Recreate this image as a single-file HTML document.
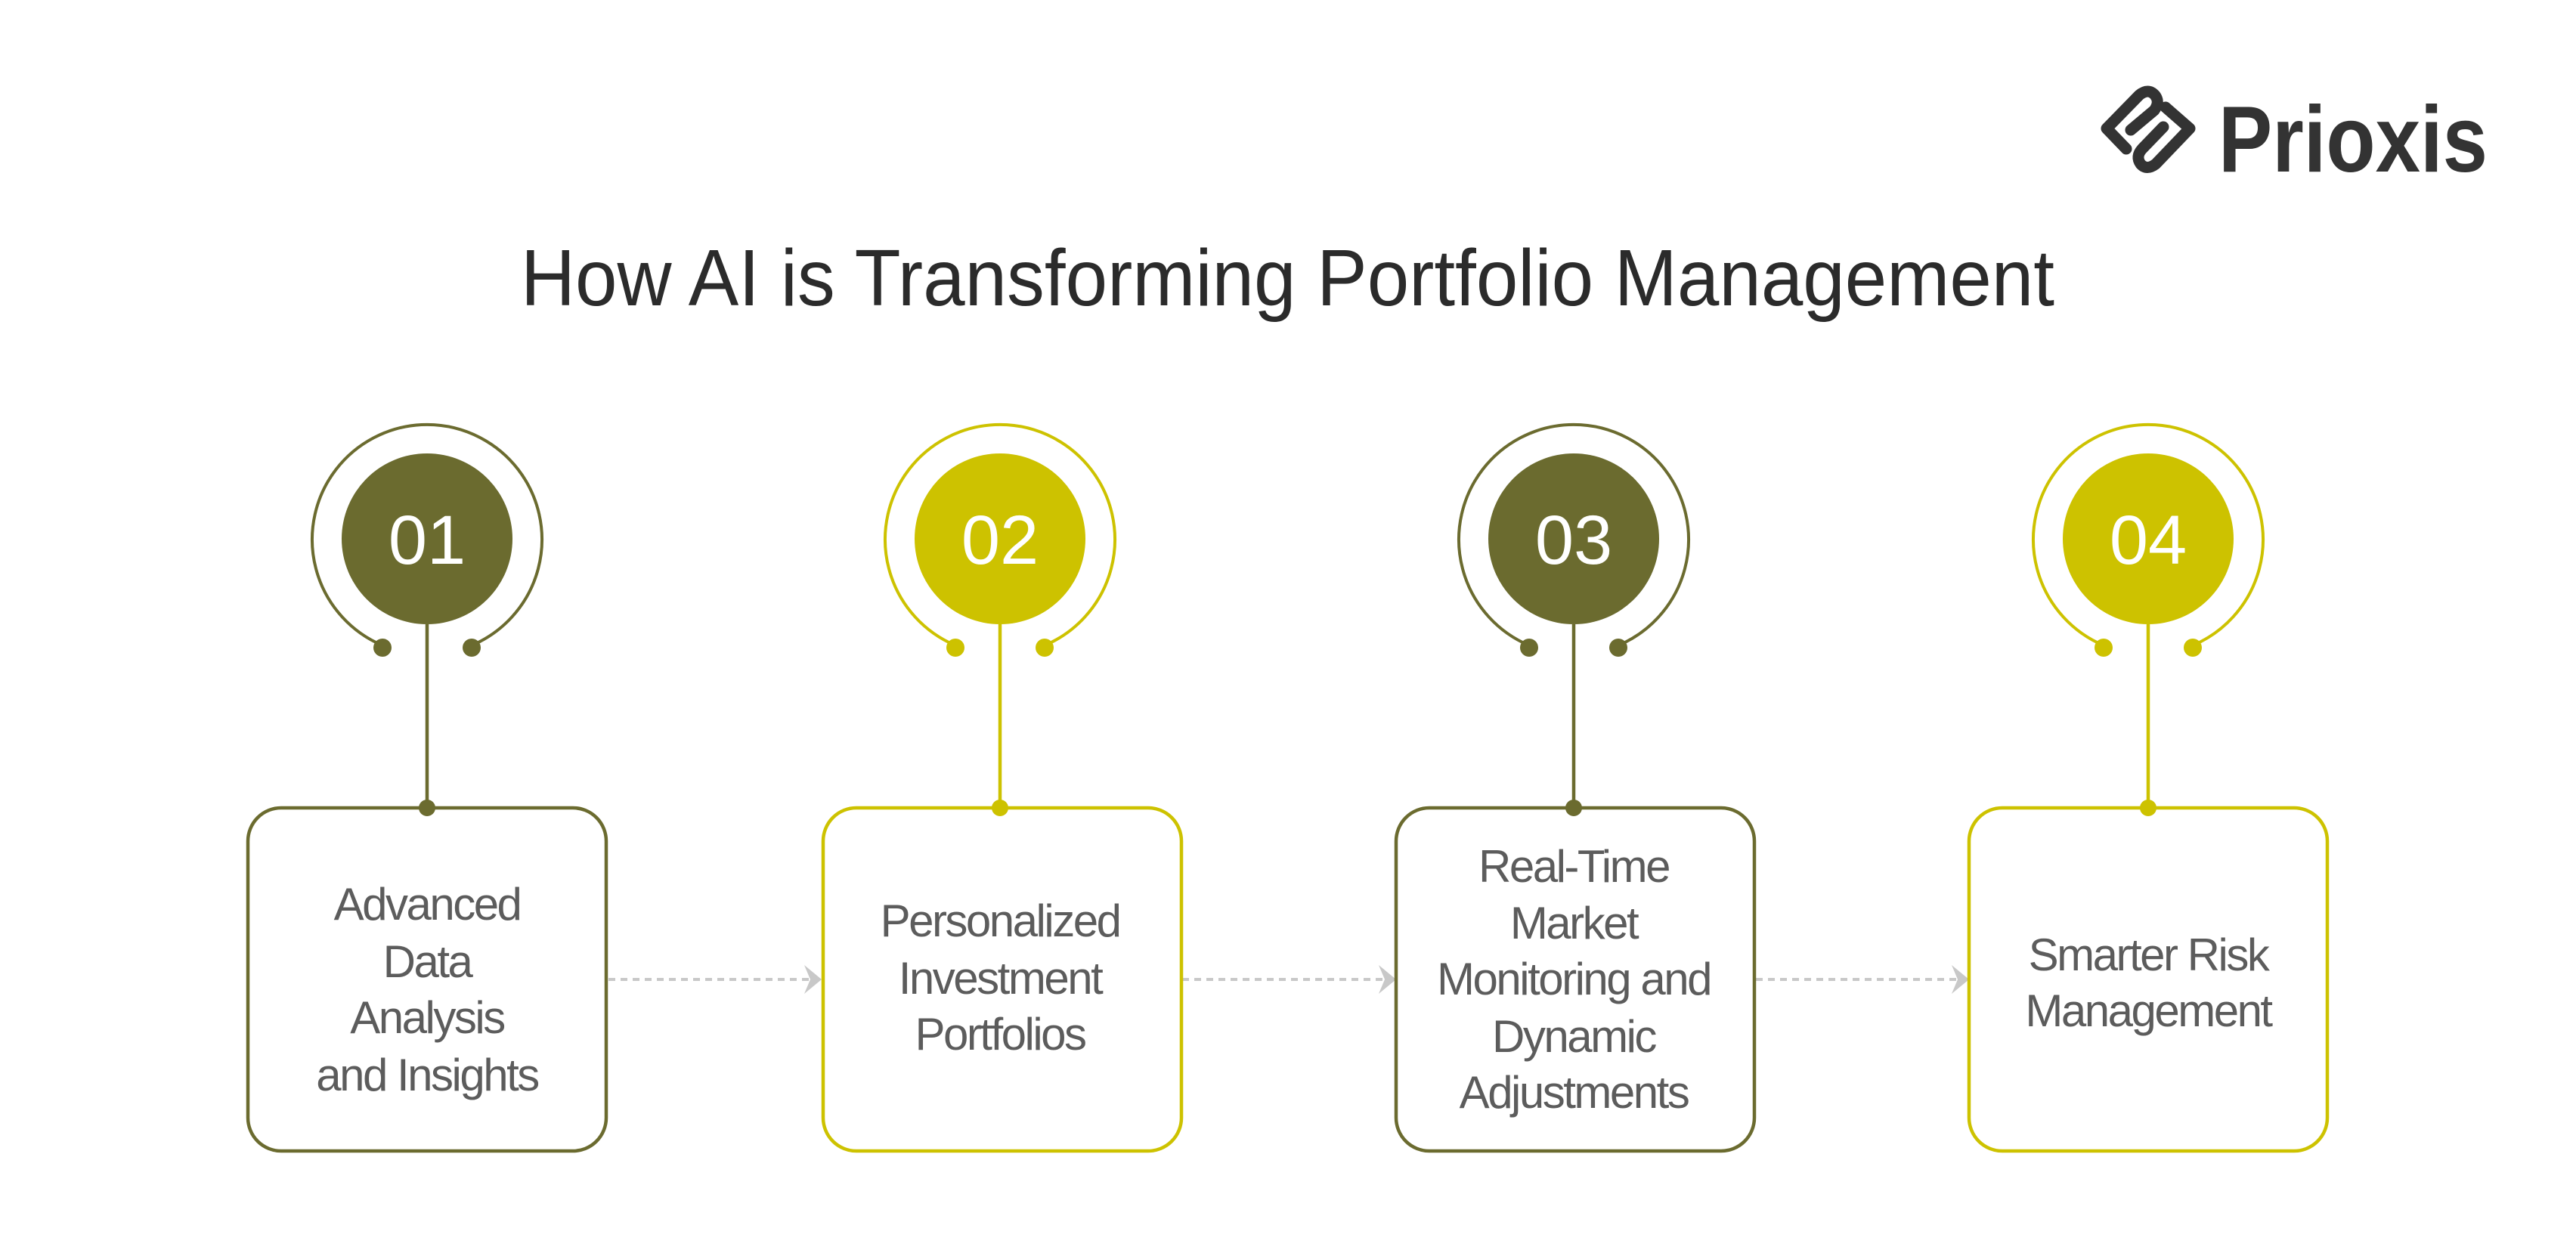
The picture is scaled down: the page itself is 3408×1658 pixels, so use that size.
<!DOCTYPE html>
<html><head><meta charset="utf-8"><style>
html,body{margin:0;padding:0;background:#fff;}
svg{display:block;}
text{font-family:"Liberation Sans",Arial,sans-serif;}
</style></head><body>
<svg width="3408" height="1658" viewBox="0 0 3408 1658" xmlns="http://www.w3.org/2000/svg">
<rect width="3408" height="1658" fill="#fff"/>
<!-- logo -->
<g fill="none" stroke="#333" stroke-width="15" stroke-linecap="round" stroke-linejoin="round">
<path d="M2813,197 L2787,170 L2830,126 Q2842,116 2851,126 Q2858,135 2850,146 L2819,172"/>
<path d="M2865,142 L2897,170 L2852,217 Q2840,226 2832,217 Q2825,207 2834,197 L2862,168"/>
</g>
<text x="2935" y="227" font-size="124" font-weight="bold" fill="#333" textLength="356" lengthAdjust="spacingAndGlyphs">Prioxis</text>
<!-- title -->
<text x="689" y="404" font-size="106" fill="#2b2b2b" textLength="2029" lengthAdjust="spacingAndGlyphs">How AI is Transforming Portfolio Management</text>

<!-- arrows -->
<g stroke="#c8c8c8" stroke-width="4" stroke-dasharray="9,7" fill="none">
<line x1="805" y1="1296" x2="1070" y2="1296"/>
<line x1="1564" y1="1296" x2="1830" y2="1296"/>
<line x1="2323" y1="1296" x2="2588" y2="1296"/>
</g>
<g fill="#c8c8c8">
<path d="M1087,1296 L1064,1277 L1072,1296 L1064,1315 Z"/>
<path d="M1847,1296 L1824,1277 L1832,1296 L1824,1315 Z"/>
<path d="M2605,1296 L2582,1277 L2590,1296 L2582,1315 Z"/>
</g>

<!-- steps -->
<g fill="none" stroke="#6b6b2f">
<path d="M506,854 A152,152 0 1 1 624,854" stroke-width="4"/>
<line x1="565" y1="826" x2="565" y2="1067" stroke-width="4.5"/>
<rect x="328" y="1069" width="474" height="454" rx="44" stroke-width="4.5"/>
</g>
<g fill="#6b6b2f"><circle cx="565" cy="713" r="113"/><circle cx="506" cy="857" r="12"/><circle cx="624" cy="857" r="12"/><circle cx="565" cy="1069" r="11"/></g>

<g fill="none" stroke="#cdc200">
<path d="M1264,854 A152,152 0 1 1 1382,854" stroke-width="4"/>
<line x1="1323" y1="826" x2="1323" y2="1067" stroke-width="4.5"/>
<rect x="1089" y="1069" width="474" height="454" rx="44" stroke-width="4.5"/>
</g>
<g fill="#cdc200"><circle cx="1323" cy="713" r="113"/><circle cx="1264" cy="857" r="12"/><circle cx="1382" cy="857" r="12"/><circle cx="1323" cy="1069" r="11"/></g>

<g fill="none" stroke="#6b6b2f">
<path d="M2023,854 A152,152 0 1 1 2141,854" stroke-width="4"/>
<line x1="2082" y1="826" x2="2082" y2="1067" stroke-width="4.5"/>
<rect x="1847" y="1069" width="474" height="454" rx="44" stroke-width="4.5"/>
</g>
<g fill="#6b6b2f"><circle cx="2082" cy="713" r="113"/><circle cx="2023" cy="857" r="12"/><circle cx="2141" cy="857" r="12"/><circle cx="2082" cy="1069" r="11"/></g>

<g fill="none" stroke="#cdc200">
<path d="M2783,854 A152,152 0 1 1 2901,854" stroke-width="4"/>
<line x1="2842" y1="826" x2="2842" y2="1067" stroke-width="4.5"/>
<rect x="2605" y="1069" width="474" height="454" rx="44" stroke-width="4.5"/>
</g>
<g fill="#cdc200"><circle cx="2842" cy="713" r="113"/><circle cx="2783" cy="857" r="12"/><circle cx="2901" cy="857" r="12"/><circle cx="2842" cy="1069" r="11"/></g>

<g fill="#fff" font-size="92" text-anchor="middle">
<text x="565" y="746">01</text>
<text x="1323" y="746">02</text>
<text x="2082" y="746">03</text>
<text x="2842" y="746">04</text>
</g>

<g fill="#5c5c5c" font-size="60" text-anchor="middle" letter-spacing="-2.5">
<text x="565" y="1217">Advanced</text>
<text x="565" y="1293">Data</text>
<text x="565" y="1367">Analysis</text>
<text x="565" y="1443">and Insights</text>
<text x="1323" y="1239">Personalized</text>
<text x="1323" y="1315">Investment</text>
<text x="1323" y="1389">Portfolios</text>
<text x="2082" y="1167">Real-Time</text>
<text x="2082" y="1242">Market</text>
<text x="2082" y="1316">Monitoring and</text>
<text x="2082" y="1392">Dynamic</text>
<text x="2082" y="1466">Adjustments</text>
<text x="2842" y="1284">Smarter Risk</text>
<text x="2842" y="1358">Management</text>
</g>
</svg>
</body></html>
